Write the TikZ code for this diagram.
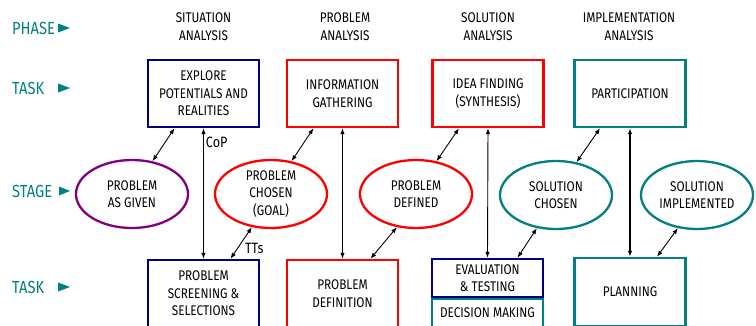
\documentclass[tikz,border=0pt]{standalone}
\usepackage{fontspec}
\setmainfont[FakeStretch=0.84]{Fira Sans}
\usetikzlibrary{arrows.meta,calc,shapes.geometric}
\definecolor{navyc}{RGB}{0,0,128}
\definecolor{redc}{RGB}{255,0,0}
\definecolor{tealc}{RGB}{0,128,128}
\definecolor{purplec}{RGB}{128,0,128}
\newcommand{\bodyfont}{\fontsize{14}{17.5}\selectfont}
\begin{document}
\begin{tikzpicture}[x=1pt,y=-1pt,
  box/.style={draw, line width=2.4pt, minimum width=111, minimum height=67, inner sep=1pt, align=center, font=\bodyfont},
  ell/.style={draw, ellipse, line width=2.3pt, minimum width=112, minimum height=68, inner sep=0pt, align=center, font=\bodyfont},
  hd/.style={align=center, font=\bodyfont, inner sep=0pt},
  dbl/.style={{Latex[length=6pt,width=4.5pt]}-{Latex[length=6pt,width=4.5pt]}, line width=0.9pt},
  lab/.style={text=tealc, font=\fontsize{17.5}{19}\selectfont, anchor=west, inner sep=0pt},
  tri/.style={fill=tealc},
  cl/.style={font=\fontsize{15}{17}\selectfont, inner sep=1pt}]
\clip (0,0) rectangle (756,325);
\fill[white] (0,0) rectangle (756,325);

% left labels
\node[lab] (lphase) at (12,28) {PHASE};
\node[lab] (ltaska) at (12,88) {TASK};
\node[lab] (lstage) at (12,191) {STAGE};
\node[lab] (ltaskb) at (12,287) {TASK};
\fill[tri] (58,23.5) -- (70,28) -- (58,32.5) -- cycle;
\fill[tri] (58,83.5) -- (70,88) -- (58,92.5) -- cycle;
\fill[tri] (59,186.5) -- (70,191) -- (59,195.5) -- cycle;
\fill[tri] (58,282.5) -- (70,287) -- (58,291.5) -- cycle;

% phase headings
\node[hd] (hsit) at (203.5,26.5) {SITUATION\\ANALYSIS};
\node[hd] (hprob) at (345,26.5) {PROBLEM\\ANALYSIS};
\node[hd] (hsol) at (488,26.5) {SOLUTION\\ANALYSIS};
\node[hd] (himp) at (629,26.5) {IMPLEMENTATION\\ANALYSIS};

% top tasks
\node[box, draw=navyc] (exp) at (203.5,93.5) {EXPLORE\\POTENTIALS AND\\REALITIES};
\node[box, draw=redc] (info) at (342.5,93.5) {INFORMATION\\GATHERING};
\node[box, draw=redc] (idea) at (488,93.5) {IDEA FINDING\\(SYNTHESIS)};
\node[box, draw=tealc] (part) at (630,93.5) {PARTICIPATION};

% stages
\node[ell, draw=purplec] (pag) at (132,194) {PROBLEM\\AS GIVEN};
\node[ell, draw=redc] (pch) at (271,194) {PROBLEM\\CHOSEN\\(GOAL)};
\node[ell, draw=redc] (pdf) at (416,194) {PROBLEM\\DEFINED};
\node[ell, draw=tealc] (sch) at (556,195) {SOLUTION\\CHOSEN};
\node[ell, draw=tealc] (sim) at (697,195) {SOLUTION\\IMPLEMENTED};

% bottom tasks
\node[box, draw=navyc] (scr) at (203.5,293.5) {PROBLEM\\SCREENING \&\\SELECTIONS};
\node[box, draw=redc] (pdn) at (342.5,293.5) {PROBLEM\\DEFINITION};
\node[box, draw=navyc, minimum height=38] (eval) at (487.5,278) {EVALUATION\\\& TESTING};
\node[box, draw=tealc, minimum height=28] (dec) at (487.5,313) {DECISION MAKING};
\node[box, draw=tealc, minimum height=68] (plan) at (630,292) {PLANNING};

% connectors
\draw[dbl] ($(exp.south)+(-29,0)$) -- (pag.58);
\draw[dbl] (exp.south) -- node[cl, pos=0.11, anchor=west, xshift=1pt] (cop) {CoP} (scr.north);
\draw[dbl] ($(info.south)+(-29,0)$) -- (pch.58);
\draw[dbl] (info.south) -- (pdn.north);
\draw[dbl] (pch.240) -- node[cl, pos=0.66, anchor=west, xshift=6pt] (tts) {TTs} ($(scr.north)+(27,0)$);
\draw[dbl] (pdf.240) -- ($(pdn.north)+(28,0)$);
\draw[dbl] ($(idea.south)+(-29,0)$) -- (pdf.58);
\draw[dbl] (idea.south) -- (eval.north);
\draw[dbl] (sch.240) -- ($(eval.north)+(30,0)$);
\draw[dbl] ($(part.south)+(-30,0)$) -- (sch.58);
\draw[dbl, line width=1.4pt] (part.south) -- (plan.north);
\draw[dbl] (sim.240) -- ($(plan.north)+(27,0)$);
\end{tikzpicture}
\end{document}
